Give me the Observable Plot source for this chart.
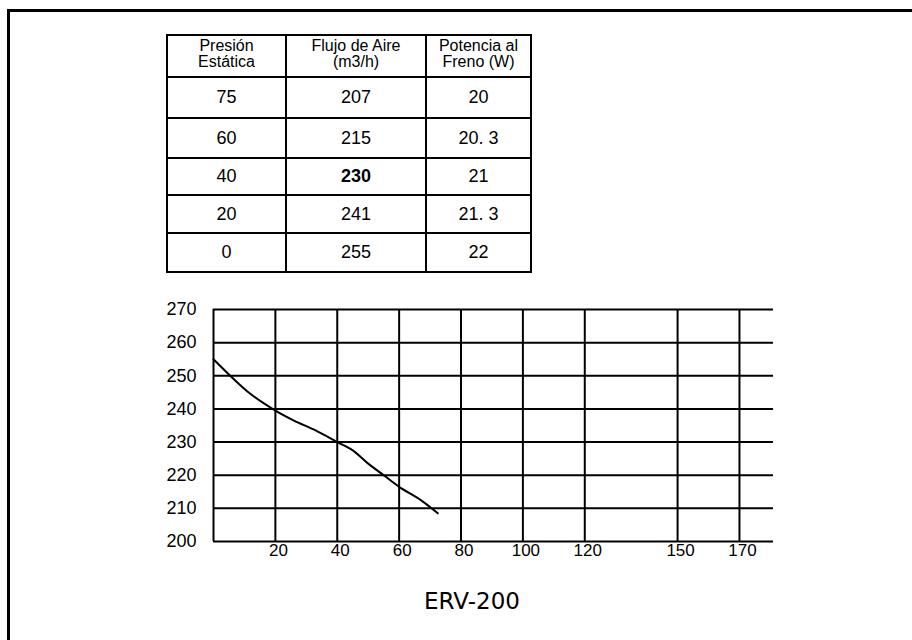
<!DOCTYPE html>
<html>
<head>
<meta charset="utf-8">
<script src="https://cdn.jsdelivr.net/npm/d3@7"></script>
<script src="https://cdn.jsdelivr.net/npm/@observablehq/plot@0.6"></script>
<style>
  html, body { margin: 0; padding: 0; background: #fff; }
  #page { position: relative; width: 912px; height: 640px; overflow: hidden; background: #fff; font-family: "Liberation Sans", Arial, sans-serif; color: #000; }
  #frame { position: absolute; left: 7px; top: 9px; width: 920px; height: 660px; border-top: 3px solid #000; border-left: 3px solid #000; z-index: 5; pointer-events: none; }
  #tbl { position: absolute; left: 166px; top: 34px; border-collapse: collapse; table-layout: fixed; }
  #tbl td { border: 2px solid #000; text-align: center; vertical-align: middle; padding: 0; font-size: 18px; }
  #tbl td.h { font-size: 16px; line-height: 16px; vertical-align: top; padding-top: 2px; }
  #chart { position: absolute; left: 0; top: 290px; }
  #title { position: absolute; left: 372px; width: 200px; top: 588px; text-align: center; font-family: "DejaVu Sans", sans-serif; font-size: 23px; }
</style>
</head>
<body>
<div id="page">
  <div id="frame"></div>
  <table id="tbl"></table>
  <div id="chart"></div>
  <div id="title"></div>
</div>
<script>
// ---- Data ----
const headers = ["Presión\nEstática", "Flujo de Aire\n(m3/h)", "Potencia al\nFreno (W)"];
const pressure = ["75", "60", "40", "20", "0"];
const airflow = ["207", "215", "230", "241", "255"];
const brakePower = ["20", "20. 3", "21", "21. 3", "22"];
const boldAirflow = "230";

const xTicks = [20, 40, 60, 80, 100, 120, 150, 170];
const yTicks = [200, 210, 220, 230, 240, 250, 260, 270];

// curve: static pressure (x) vs airflow (y)
const curveX = [0, 6, 12, 20, 26, 33, 40, 45, 50, 55, 60, 67, 72.5];
const curveY = [255, 249.5, 244.5, 239.5, 236.5, 233.5, 230, 227.5, 223.5, 220, 216.5, 212.5, 208.5];

const titleText = "ERV-200";

// ---- Table ----
const colWidths = [119, 140, 105];
const rowHeights = [42, 41, 40, 37, 38, 39];
const tbl = document.getElementById("tbl");
const cg = document.createElement("colgroup");
colWidths.forEach(w => { const c = document.createElement("col"); c.style.width = w + "px"; cg.appendChild(c); });
tbl.appendChild(cg);
const hr = document.createElement("tr");
hr.style.height = rowHeights[0] + "px";
headers.forEach(h => {
  const td = document.createElement("td");
  td.className = "h";
  h.split("\n").forEach((line, i) => {
    if (i) td.appendChild(document.createElement("br"));
    td.appendChild(document.createTextNode(line));
  });
  hr.appendChild(td);
});
tbl.appendChild(hr);
pressure.forEach((p, i) => {
  const tr = document.createElement("tr");
  tr.style.height = rowHeights[i + 1] + "px";
  [p, airflow[i], brakePower[i]].forEach((v, j) => {
    const td = document.createElement("td");
    td.textContent = v;
    if (j === 1 && v === boldAirflow) td.style.fontWeight = "bold";
    tr.appendChild(td);
  });
  tbl.appendChild(tr);
});

// ---- Chart ----
const curve = curveX.map((x, i) => ({x, y: curveY[i]}));
const chart = Plot.plot({
  width: 912,
  height: 290,
  marginTop: 19,
  marginBottom: 39,
  marginLeft: 213,
  marginRight: 139,
  x: {domain: [0, 181]},
  y: {domain: [200, 270]},
  style: {fontFamily: "'Liberation Sans', Arial, sans-serif", color: "#000", background: "transparent", overflow: "visible"},
  marks: [
    Plot.ruleY(yTicks, {stroke: "#000", strokeWidth: 2}),
    Plot.ruleX([0, ...xTicks], {y1: 200, y2: 270, stroke: "#000", strokeWidth: 2}),
    Plot.line(curve, {x: "x", y: "y", stroke: "#000", strokeWidth: 2, curve: "catmull-rom"}),
    Plot.axisX(xTicks, {tickSize: 0, tickPadding: 2, fontSize: 17, dx: 3, label: null}),
    Plot.axisY(yTicks, {tickSize: 0, tickPadding: 17, fontSize: 18, label: null})
  ]
});
document.getElementById("chart").appendChild(chart);
document.getElementById("title").textContent = titleText;
</script>
</body>
</html>
